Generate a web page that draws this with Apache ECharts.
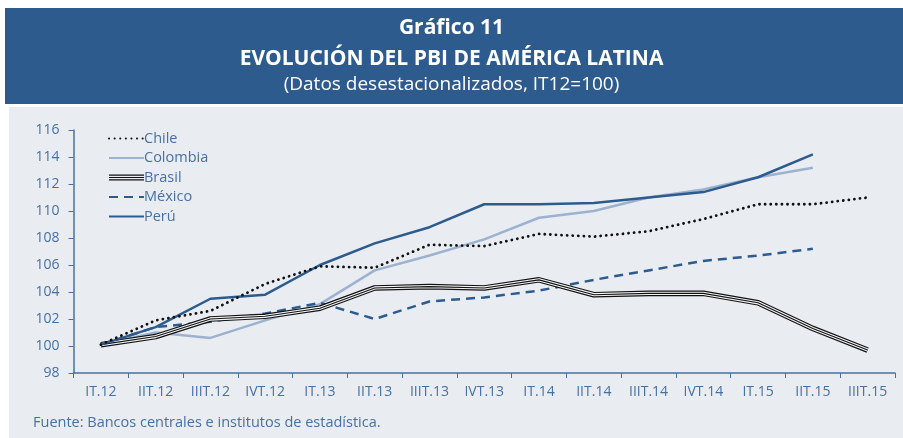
<!DOCTYPE html>
<html>
<head>
<meta charset="utf-8">
<script src="https://cdn.jsdelivr.net/npm/echarts@6/dist/echarts.min.js"></script>
<style>
  html, body { margin: 0; padding: 0; background: #fff; }
  #chart { width: 903px; height: 438px; }
</style>
</head>
<body>
<div id="chart"></div>
<script>
// trimestres
let quarters = ['IT.12', 'IIT.12', 'IIIT.12', 'IVT.12', 'IT.13', 'IIT.13', 'IIIT.13', 'IVT.13',
  'IT.14', 'IIT.14', 'IIIT.14', 'IVT.14', 'IT.15', 'IIT.15', 'IIIT.15']

let chile = [100.1, 101.9, 102.6, 104.6, 105.9, 105.8, 107.5, 107.4, 108.3, 108.1, 108.5, 109.4, 110.5, 110.5, 111.0]
let colombia = [100.1, 101.0, 100.6, 101.9, 103.1, 105.6, 106.7, 107.9, 109.5, 110.0, 111.0, 111.6, 112.5, 113.2, null]
let brasil = [100.1, 100.7, 102.0, 102.2, 102.8, 104.3, 104.4, 104.3, 104.9, 103.8, 103.9, 103.9, 103.2, 101.3, 99.7]
let mexico = [100.1, 101.4, 101.8, 102.4, 103.2, 102.0, 103.3, 103.6, 104.1, 104.9, 105.6, 106.3, 106.7, 107.2, null]
let peru = [100.1, 101.4, 103.5, 103.8, 106.0, 107.6, 108.8, 110.5, 110.5, 110.6, 111.0, 111.4, 112.5, 114.2, null]

let blue = '#2e5b8e'
let labelBlue = '#4670a3'
let panel = '#e9edf2'

let myChart = echarts.init(document.getElementById('chart'))

function lineSerie(name, data, lineStyle, z) {
  return {
    name: name,
    type: 'line',
    data: data,
    symbol: 'none',
    z: z,
    lineStyle: lineStyle,
    itemStyle: { color: lineStyle.color },
    emphasis: { disabled: true }
  }
}

let option = {
  backgroundColor: '#fff',
  animation: false,
  textStyle: { fontFamily: 'Open Sans' },
  graphic: [
    { type: 'rect', shape: { x: 5, y: 8, width: 898, height: 96 }, style: { fill: blue }, z: -10 },
    { type: 'rect', shape: { x: 9, y: 107, width: 894, height: 331 }, style: { fill: panel }, z: -10 },
    {
      type: 'text', left: 33, top: 415,
      style: { text: 'Fuente: Bancos centrales e institutos de estadística.', fill: labelBlue, font: '14.5px "Open Sans"' }
    }
  ],
  title: [
    { text: 'Gráfico 11', left: 'center', top: 13, textStyle: { color: '#fff', fontSize: 21, fontWeight: 'bold' } },
    { text: 'EVOLUCIÓN DEL PBI DE AMÉRICA LATINA', left: 'center', top: 44, textStyle: { color: '#fff', fontSize: 21, fontWeight: 'bold' } },
    { text: '(Datos desestacionalizados, IT12=100)', left: 'center', top: 70, textStyle: { color: '#fff', fontSize: 19, fontWeight: 'normal' } }
  ],
  legend: {
    orient: 'vertical',
    left: 103,
    top: 126,
    itemWidth: 35,
    itemHeight: 12,
    itemGap: 4.5,
    textStyle: { color: labelBlue, fontSize: 14.5, padding: [0, 0, 0, -5] },
    itemStyle: { color: 'transparent', borderWidth: 0 },
    data: [
      { name: 'Chile' },
      { name: 'Colombia' },
      { name: 'Brasil', icon: 'path://M0,0H35V1.2H0Z M0,2.4H35V3.6H0Z M0,4.8H35V6H0Z', itemStyle: { color: '#111' } },
      { name: 'México' },
      { name: 'Perú' }
    ]
  },
  grid: { left: 73.5, right: 8, top: 130, bottom: 65 },
  xAxis: {
    type: 'category',
    data: quarters,
    boundaryGap: true,
    axisLine: { lineStyle: { color: labelBlue, width: 1.5 } },
    axisTick: { show: true, length: 5, lineStyle: { color: labelBlue } },
    axisLabel: { color: labelBlue, fontSize: 14, margin: 12, interval: 0 }
  },
  yAxis: {
    type: 'value',
    min: 98,
    max: 116,
    interval: 2,
    axisLine: { show: true, lineStyle: { color: labelBlue, width: 1.5 } },
    axisTick: { show: true, length: 5, lineStyle: { color: labelBlue } },
    axisLabel: { color: labelBlue, fontSize: 14, margin: 14 },
    splitLine: { show: false }
  },
  series: [
    lineSerie('Colombia', colombia, { color: '#9cb2cf', width: 2.5 }, 2),
    lineSerie('México', mexico, { color: blue, width: 2.5, type: [9, 6] }, 3),
    lineSerie('Brasil', brasil, { color: '#111', width: 5.6 }, 4),
    lineSerie('Brasil_b', brasil, { color: '#f4f6f8', width: 3.3 }, 5),
    lineSerie('Brasil_c', brasil, { color: '#111', width: 1.1 }, 6),
    lineSerie('Perú', peru, { color: blue, width: 2.5 }, 7),
    lineSerie('Chile', chile, { color: '#111', width: 2.8, type: [0.1, 5.5], cap: 'round' }, 8)
  ]
}

myChart.setOption(option)
window.addEventListener('resize', function () {
  myChart.resize()
})
</script>
</body>
</html>
